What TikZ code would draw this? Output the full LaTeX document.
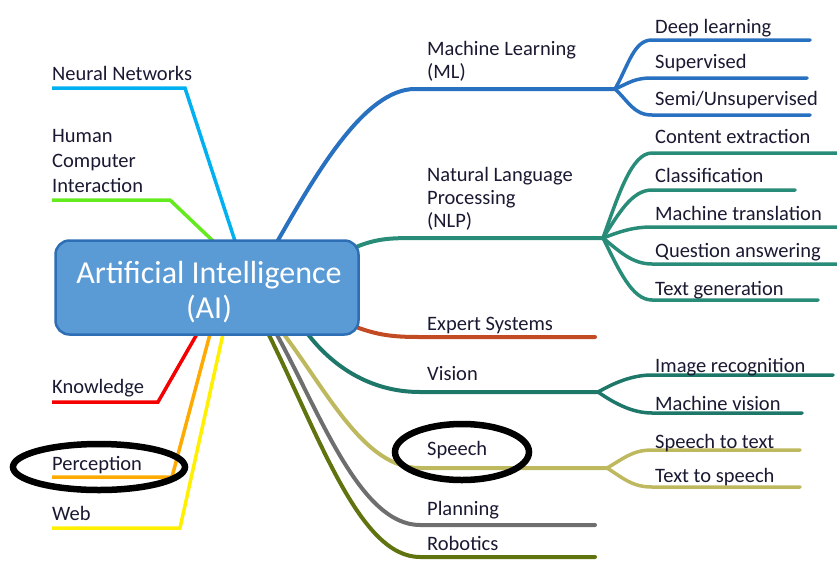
\documentclass[tikz,border=0pt]{standalone}
\usepackage{fontspec}
\setmainfont{Carlito}
\definecolor{mlblue}{RGB}{40,112,192}
\definecolor{nlpteal}{RGB}{40,140,120}
\definecolor{visteal}{RGB}{30,120,105}
\definecolor{exred}{RGB}{195,75,35}
\definecolor{spkhaki}{RGB}{190,185,95}
\definecolor{plgray}{RGB}{110,110,110}
\definecolor{rbgreen}{RGB}{95,115,15}
\definecolor{nnblue}{RGB}{0,176,240}
\definecolor{hcigreen}{RGB}{100,235,30}
\definecolor{knred}{RGB}{245,0,0}
\definecolor{peorange}{RGB}{255,170,0}
\definecolor{webyellow}{RGB}{255,240,0}
\definecolor{aifill}{RGB}{91,155,213}
\definecolor{aiborder}{RGB}{45,110,180}
\definecolor{txt}{RGB}{25,25,50}
\tikzset{
  mainline/.style={line width=4pt, line cap=round},
  subline/.style={line width=3.5pt, line cap=round},
  leftline/.style={line width=3.5pt, line join=miter},
  lbl/.style={font=\fontsize{20.5}{24}\selectfont, text=txt, inner sep=0pt, anchor=base west},
  circleit/.style={draw=black, line width=6.5pt},
  aibox/.style={draw=aiborder, fill=aifill, line width=2.5pt, rounded corners=14pt,
     minimum width=303pt, minimum height=94pt, inner sep=0pt},
  aitext/.style={font=\fontsize{32}{35}\selectfont, text=white, inner sep=0pt, anchor=base}
}
\begin{document}
\begin{tikzpicture}[x=1pt,y=-1pt]
\useasboundingbox (0,0) rectangle (837,560);
% ---------- start points on the central box
\coordinate (sNN) at (235,241);
\coordinate (sHCI) at (213,241);
\coordinate (sKN) at (197,334);
\coordinate (sPE) at (210,334);
\coordinate (sWE) at (223,334);
\coordinate (sML) at (277,242);
\coordinate (sNLP) at (356,247);
\coordinate (sEX) at (356,327);
\coordinate (sVI) at (307,333);
\coordinate (sSP) at (283,333);
\coordinate (sPL) at (276,333);
\coordinate (sRB) at (268,333);
% ---------- left side
\coordinate (kNN) at (185,88);  \coordinate (eNN) at (52,88);
\coordinate (kHCI) at (170,200); \coordinate (eHCI) at (52,200);
\coordinate (kKN) at (158,402); \coordinate (eKN) at (52,402);
\coordinate (kPE) at (172,477); \coordinate (ePE) at (52,477);
\coordinate (kWE) at (180,528); \coordinate (eWE) at (52,528);
\draw[leftline, nnblue] (sNN) -- (kNN) -- (eNN);
\draw[leftline, hcigreen] (sHCI) -- (kHCI) -- (eHCI);
\draw[leftline, knred] (sKN) -- (kKN) -- (eKN);
\draw[leftline, peorange] (sPE) -- (kPE) -- (ePE);
\draw[leftline, webyellow] (sWE) -- (kWE) -- (eWE);
\node[lbl] (nn) at (52,80) {Neural Networks};
\node[lbl] (hci) at (52,192) {\fontsize{20.5}{25}\selectfont\begin{tabular}[b]{@{}l@{}}Human\\Computer\\Interaction\end{tabular}};
\node[lbl] (kn) at (52,393) {Knowledge};
\node[lbl] (pe) at (52,470) {Perception};
\node[lbl] (we) at (52,520) {Web};
% ---------- Machine Learning
\coordinate (hML) at (415,89); \coordinate (bML) at (615,89);
\draw[mainline, mlblue] (sML) .. controls +(40,-70) and +(-50,0) .. (hML) -- (bML);
\coordinate (k1) at (652,40);  \coordinate (e1) at (810,40);
\coordinate (k2) at (652,78);  \coordinate (e2) at (807,78);
\coordinate (k3) at (652,115); \coordinate (e3) at (810,115);
\draw[subline, mlblue] (bML) .. controls +(14,-25) and +(-18,0) .. (k1) -- (e1);
\draw[subline, mlblue] (bML) .. controls +(14,-6) and +(-18,0) .. (k2) -- (e2);
\draw[subline, mlblue] (bML) .. controls +(14,13) and +(-18,0) .. (k3) -- (e3);
\node[lbl] (ml) at (427,78) {\fontsize{20.5}{23}\selectfont\begin{tabular}[b]{@{}l@{}}Machine Learning\\(ML)\end{tabular}};
\node[lbl] (dl) at (655,33) {Deep learning};
\node[lbl] (su) at (655,68) {Supervised};
\node[lbl] (se) at (655,105) {Semi/Unsupervised};
% ---------- NLP
\coordinate (hNLP) at (420,238); \coordinate (bNLP) at (603,238);
\draw[mainline, nlpteal] (sNLP) .. controls +(22,-9) and +(-28,0) .. (hNLP) -- (bNLP);
\coordinate (k4) at (652,153); \coordinate (e4) at (840,153);
\coordinate (k5) at (652,190); \coordinate (e5) at (795,190);
\coordinate (k6) at (652,227); \coordinate (e6) at (840,227);
\coordinate (k7) at (652,264); \coordinate (e7) at (840,264);
\coordinate (k8) at (652,300); \coordinate (e8) at (818,300);
\draw[subline, nlpteal] (bNLP) .. controls +(16,-45) and +(-20,0) .. (k4) -- (e4);
\draw[subline, nlpteal] (bNLP) .. controls +(16,-25) and +(-20,0) .. (k5) -- (e5);
\draw[subline, nlpteal] (bNLP) .. controls +(16,-6) and +(-20,0) .. (k6) -- (e6);
\draw[subline, nlpteal] (bNLP) .. controls +(16,13) and +(-20,0) .. (k7) -- (e7);
\draw[subline, nlpteal] (bNLP) .. controls +(16,32) and +(-20,0) .. (k8) -- (e8);
\node[lbl] (nlp) at (427,227) {\fontsize{20.5}{23}\selectfont\begin{tabular}[b]{@{}l@{}}Natural Language\\Processing\\(NLP)\end{tabular}};
\node[lbl] (ce) at (655,143) {Content extraction};
\node[lbl] (cl) at (655,182) {Classification};
\node[lbl] (mt) at (655,220) {Machine translation};
\node[lbl] (qa) at (655,257) {Question answering};
\node[lbl] (tg) at (655,295) {Text generation};
% ---------- Expert Systems
\coordinate (hEX) at (420,337); \coordinate (eEX) at (595,337);
\draw[mainline, exred] (sEX) .. controls +(22,8) and +(-28,0) .. (hEX) -- (eEX);
\node[lbl] (ex) at (427,330) {Expert Systems};
% ---------- Vision
\coordinate (hVI) at (420,392); \coordinate (bVI) at (598,392);
\draw[mainline, visteal] (sVI) .. controls +(25,33) and +(-50,0) .. (hVI) -- (bVI);
\coordinate (k9) at (652,375);  \coordinate (e9) at (833,375);
\coordinate (k10) at (652,413); \coordinate (e10) at (802,413);
\draw[subline, visteal] (bVI) .. controls +(16,-9) and +(-20,0) .. (k9) -- (e9);
\draw[subline, visteal] (bVI) .. controls +(16,11) and +(-20,0) .. (k10) -- (e10);
\node[lbl] (vi) at (427,380) {Vision};
\node[lbl] (ir) at (655,372) {Image recognition};
\node[lbl] (mv) at (655,410) {Machine vision};
% ---------- Speech
\coordinate (hSP) at (420,468); \coordinate (bSP) at (607,468);
\draw[mainline, spkhaki] (sSP) .. controls +(47,63) and +(-55,0) .. (hSP) -- (bSP);
\coordinate (k11) at (652,450); \coordinate (e11) at (800,450);
\coordinate (k12) at (652,487); \coordinate (e12) at (800,487);
\draw[subline, spkhaki] (bSP) .. controls +(16,-9) and +(-20,0) .. (k11) -- (e11);
\draw[subline, spkhaki] (bSP) .. controls +(16,10) and +(-20,0) .. (k12) -- (e12);
\node[lbl] (sp) at (427,455) {Speech};
\node[lbl] (st) at (655,448) {Speech to text};
\node[lbl] (ts) at (655,482) {Text to speech};
% ---------- Planning
\coordinate (hPL) at (420,525); \coordinate (ePL) at (595,525);
\draw[mainline, plgray] (sPL) .. controls +(44,80) and +(-60,0) .. (hPL) -- (ePL);
\node[lbl] (pl) at (427,515) {Planning};
% ---------- Robotics
\coordinate (hRB) at (420,557); \coordinate (eRB) at (595,557);
\draw[mainline, rbgreen] (sRB) .. controls +(52,105) and +(-60,0) .. (hRB) -- (eRB);
\node[lbl] (rb) at (427,550) {Robotics};
% ---------- central box
\node[aibox] (ai) at (207,287.5) {};
\node[aitext] (ai1) at (209,283) {Artificial Intelligence};
\node[aitext] (ai2) at (209,318) {(AI)};
% ---------- hand-drawn ellipses
\draw[circleit] (99,467) ellipse [x radius=86pt, y radius=23pt];
\draw[circleit] (462,452) ellipse [x radius=67pt, y radius=28pt];
\end{tikzpicture}
\end{document}
